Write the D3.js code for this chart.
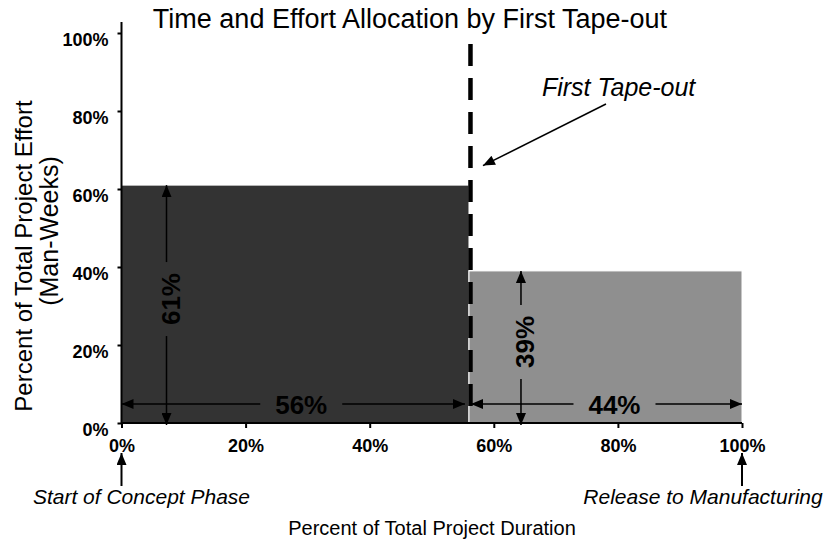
<!DOCTYPE html>
<html>
<head>
<meta charset="utf-8">
<script src="https://cdn.jsdelivr.net/npm/d3@7"></script>
<style>
  html, body { margin: 0; padding: 0; background: #fff; }
  svg { display: block; font-family: "Liberation Sans", Arial, Helvetica, sans-serif; }
</style>
</head>
<body>
<svg id="chart" width="826" height="542"></svg>
<script>
// Share of project duration (x) and effort (y) before / after first tape-out
const phases = ["Before tape-out", "After tape-out"];
const durationPct = [56, 44];
const effortPct = [61, 39];
const phaseColors = ["#333333", "#8f8f8f"];
const tapeOutPct = 56;
const xTicks = [0, 20, 40, 60, 80, 100];
const yTicks = [0, 20, 40, 60, 80, 100];
const tickLabel = d => d + "%";

const svg = d3.select("#chart");
const x = d3.scaleLinear().domain([0, 100]).range([121.5, 742]);
const y = d3.scaleLinear().domain([0, 100]).range([423, 33]);

// arrowhead markers
const defs = svg.append("defs");
defs.append("marker")
  .attr("id", "head")
  .attr("viewBox", "0 0 12 10")
  .attr("refX", 12).attr("refY", 5)
  .attr("markerUnits", "userSpaceOnUse")
  .attr("markerWidth", 13).attr("markerHeight", 10)
  .attr("orient", "auto-start-reverse")
  .append("path").attr("d", "M0,0 L12,5 L0,10 Z").attr("fill", "#000");

// bars: each phase spans its share of duration, height = share of effort
const starts = d3.cumsum([0].concat(durationPct.slice(0, -1)));
const bars = phases.map((p, i) => ({
  name: p, x0: starts[i], x1: starts[i] + durationPct[i], effort: effortPct[i], color: phaseColors[i]
}));

svg.append("g").selectAll("rect").data(bars).join("rect")
  .attr("x", d => x(d.x0))
  .attr("y", d => y(d.effort))
  .attr("width", d => x(d.x1) - x(d.x0))
  .attr("height", d => y(0) - y(d.effort))
  .attr("fill", d => d.color)
  .attr("stroke", "#fff")
  .attr("stroke-width", 1);

// axes
const yAxis = svg.append("g")
  .attr("transform", `translate(${x(0)},0)`)
  .call(d3.axisLeft(y).tickValues(yTicks).tickFormat(tickLabel).tickSize(4).tickSizeOuter(0).tickPadding(9));
yAxis.select(".domain").remove();
yAxis.selectAll(".tick line").attr("stroke", "#000").attr("stroke-width", 2);
yAxis.selectAll(".tick text")
  .attr("dy", "12px")
  .attr("font-size", 18).attr("font-weight", "bold").attr("fill", "#000")
  .attr("font-family", "Liberation Sans, Arial, sans-serif");

const xAxis = svg.append("g")
  .attr("transform", `translate(0,${y(0)})`)
  .call(d3.axisBottom(x).tickValues(xTicks).tickFormat(tickLabel).tickSize(5).tickSizeOuter(0).tickPadding(11));
xAxis.select(".domain").remove();
xAxis.selectAll(".tick line").attr("stroke", "#000").attr("stroke-width", 2);
xAxis.selectAll(".tick text")
  .attr("font-size", 18).attr("font-weight", "bold").attr("fill", "#000")
  .attr("font-family", "Liberation Sans, Arial, sans-serif");

svg.append("line")
  .attr("x1", x(0)).attr("x2", x(100)).attr("y1", y(0)).attr("y2", y(0))
  .attr("stroke", "#000").attr("stroke-width", 2);
svg.append("line")
  .attr("x1", x(0)).attr("x2", x(0)).attr("y1", y(100) - 11).attr("y2", y(0) + 1)
  .attr("stroke", "#000").attr("stroke-width", 2);

// first tape-out marker
svg.append("line")
  .attr("x1", x(tapeOutPct) + 1.5).attr("x2", x(tapeOutPct) + 1.5)
  .attr("y1", y(97.2)).attr("y2", y(2.8))
  .attr("stroke", "#000").attr("stroke-width", 4.5)
  .attr("stroke-dasharray", "22,12");

// dimension arrows: horizontal (duration) and vertical (effort)
const dimY = y(0) - 19;
const labelFont = { size: 26, weight: "bold" };
const ann = svg.append("g");

function hDim(xa, xb, label, shift) {
  const cx = (xa + xb) / 2 + shift;
  const half = 41;
  ann.append("line").attr("x1", cx - half).attr("x2", xa).attr("y1", dimY).attr("y2", dimY)
    .attr("stroke", "#000").attr("stroke-width", 1.5).attr("marker-end", "url(#head)");
  ann.append("line").attr("x1", cx + half).attr("x2", xb).attr("y1", dimY).attr("y2", dimY)
    .attr("stroke", "#000").attr("stroke-width", 1.5).attr("marker-end", "url(#head)");
  ann.append("text").attr("x", cx).attr("y", dimY + 10)
    .attr("text-anchor", "middle").attr("font-size", labelFont.size).attr("font-weight", labelFont.weight)
    .attr("fill", "#000").text(label);
}
function vDim(xp, ya, yb, label) {
  const cy = (ya + yb) / 2 - 5;
  const half = 37;
  ann.append("line").attr("x1", xp).attr("x2", xp).attr("y1", cy - half).attr("y2", ya)
    .attr("stroke", "#000").attr("stroke-width", 1.5).attr("marker-end", "url(#head)");
  ann.append("line").attr("x1", xp).attr("x2", xp).attr("y1", cy + half).attr("y2", yb + 2)
    .attr("stroke", "#000").attr("stroke-width", 1.5).attr("marker-end", "url(#head)");
  ann.append("text").attr("transform", `translate(${xp + 13},${cy}) rotate(-90)`)
    .attr("text-anchor", "middle").attr("font-size", labelFont.size).attr("font-weight", labelFont.weight)
    .attr("fill", "#000").text(label);
}

bars.forEach((b, i) => {
  hDim(x(b.x0) + (i ? 2 : 0), x(b.x1) - (i ? 0 : 4), tickLabel(durationPct[i]), 8);
});
const effortArrowOffset = [45, 52];
bars.forEach((b, i) => {
  vDim(x(b.x0) + effortArrowOffset[i], y(b.effort), y(0), tickLabel(effortPct[i]));
});

// titles
svg.append("text").attr("x", 410).attr("y", 28).attr("text-anchor", "middle")
  .attr("font-size", 27).attr("fill", "#000").text("Time and Effort Allocation by First Tape-out");

svg.append("text").attr("transform", "translate(32,256) rotate(-90)").attr("text-anchor", "middle")
  .attr("font-size", 24).attr("fill", "#000").text("Percent of Total Project Effort");
svg.append("text").attr("transform", "translate(58,231) rotate(-90)").attr("text-anchor", "middle")
  .attr("font-size", 25).attr("fill", "#000").text("(Man-Weeks)");

svg.append("text").attr("x", 432).attr("y", 535).attr("text-anchor", "middle")
  .attr("font-size", 20).attr("fill", "#000").text("Percent of Total Project Duration");

// tape-out callout
svg.append("text").attr("x", x(tapeOutPct) + 73).attr("y", 96)
  .attr("font-size", 25).attr("font-style", "italic").attr("fill", "#000").text("First Tape-out");
svg.append("line")
  .attr("x1", x(tapeOutPct) + 137).attr("y1", 104)
  .attr("x2", x(tapeOutPct) + 14).attr("y2", y(66))
  .attr("stroke", "#000").attr("stroke-width", 1.5).attr("marker-end", "url(#head)");

// milestone markers under the duration axis
const milestones = [
  { at: 0, label: "Start of Concept Phase" },
  { at: 100, label: "Release to Manufacturing" }
];
const ms = svg.append("g").selectAll("g").data(milestones).join("g");
ms.append("line")
  .attr("x1", d => x(d.at)).attr("x2", d => x(d.at))
  .attr("y1", 486).attr("y2", 453)
  .attr("stroke", "#000").attr("stroke-width", 2).attr("marker-end", "url(#head)");
ms.append("text")
  .attr("x", d => x(d.at) + (d.at === 0 ? 20 : -39)).attr("y", 504)
  .attr("text-anchor", "middle").attr("font-size", 21).attr("font-style", "italic").attr("fill", "#000")
  .text(d => d.label);
</script>
</body>
</html>
